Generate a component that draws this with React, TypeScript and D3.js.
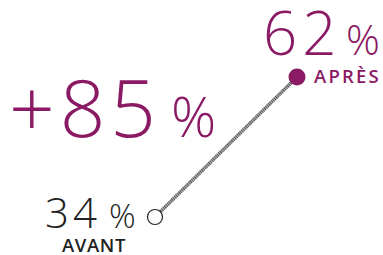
import React from "react";
import * as d3 from "d3";

const categories = ["AVANT", "APRÈS"];
const values = [34, 62];
const change = "+85";

const purple = "#8b1a64";
const dark = "#222";

export default function App() {
  const width = 383;
  const height = 255;

  const x = d3.scalePoint().domain(categories).range([155, 297]);
  const y = d3.scaleLinear().domain([34, 62]).range([217, 77]);

  const pts = categories.map((c, i) => ({ c, v: values[i], x: x(c) as number, y: y(values[i]) }));
  const line = d3.line<{ x: number; y: number }>().x(d => d.x).y(d => d.y);
  const path = line(pts) || "";

  const font = "'Open Sans', sans-serif";
  const [a, b] = pts;

  return (
    <svg width={width} height={height} style={{ position: "absolute", left: 0, top: 0, fontFamily: font }}>
      {/* connector: grey band with dark ladder */}
      <path d={path} stroke="#b5b5b5" strokeWidth={3.5} fill="none" />
      <path d={path} stroke="#444" strokeWidth={3.5} strokeDasharray="0.8 1.2" fill="none" />

      {/* change label */}
      <text x={9} y={137} fill={purple} fontWeight={300} fontSize={80} letterSpacing={5}>{change}</text>
      <text x={171} y={137} fill={purple} fontWeight={300} fontSize={56}>%</text>

      {/* before */}
      <circle cx={a.x} cy={a.y} r={7.5} fill="#fff" stroke={dark} strokeWidth={1.2} />
      <text x={45} y={228} fill={dark} fontWeight={300} fontSize={42} letterSpacing={4}>{a.v}</text>
      <text x={109} y={228} fill={dark} fontWeight={300} fontSize={33}>%</text>
      <text x={62} y={252} fill={dark} fontWeight={600} fontSize={18.5} letterSpacing={0.6}>
        {a.c}
      </text>

      {/* after */}
      <circle cx={b.x} cy={b.y} r={8.5} fill={purple} />
      <text x={263} y={55} fill={purple} fontWeight={300} fontSize={60} letterSpacing={5}>{b.v}</text>
      <text x={346} y={55} fill={purple} fontWeight={300} fontSize={42}>%</text>
      <text x={314} y={83} fill={purple} fontWeight={600} fontSize={18.5} letterSpacing={2.2}>
        {b.c}
      </text>
    </svg>
  );
}
